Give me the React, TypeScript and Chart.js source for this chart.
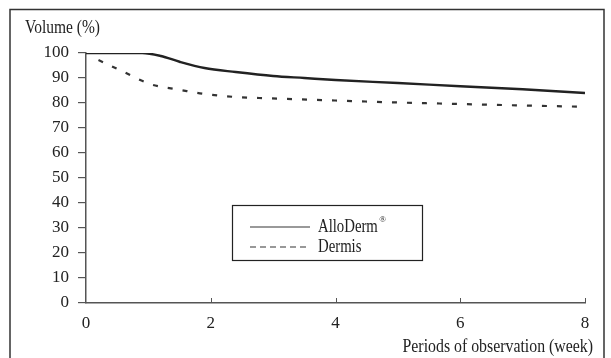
import React, { useEffect, useRef } from "react";
import { Chart, registerables } from "chart.js";

Chart.register(...registerables);

const alloWeeks = [0, 0.9, 1.2, 1.5, 1.9, 2.4, 3, 3.5, 4, 5, 6, 7, 8];
const alloValues = [100, 100, 98.8, 96.5, 94, 92.4, 90.8, 90, 89.2, 88, 86.7, 85.5, 84];
const dermWeeks = [0.2, 0.6, 1.0, 1.2, 1.45, 1.9, 2.4, 2.9, 4, 5, 6, 7, 8];
const dermValues = [97.2, 92.5, 87.8, 86.5, 85.5, 83.6, 82.4, 81.9, 81, 80.2, 79.6, 79, 78.5];
const xTicks = [0, 2, 4, 6, 8];
const yTitle = "Volume (%)";
const xTitle = "Periods of observation (week)";
const seriesNames = ["AlloDerm", "Dermis"];

const FONT = "'Liberation Serif', 'DejaVu Serif', serif";

function condensedText(ctx: any, text: string, x: number, y: number, align: string, size: number, sx: number) {
  ctx.save();
  ctx.font = `${size}px ${FONT}`;
  ctx.textBaseline = "middle";
  ctx.textAlign = "left";
  const w = ctx.measureText(text).width * sx;
  const left = align === "right" ? x - w : x;
  ctx.translate(left, y);
  ctx.scale(sx, 1);
  ctx.fillText(text, 0, 0);
  ctx.restore();
  return w;
}

const decorPlugin = {
  id: "decor",
  afterDraw(chart: any) {
    const ctx = chart.ctx;
    const xs = chart.scales.x;
    const ys = chart.scales.y;
    ctx.save();
    // outer frame
    ctx.strokeStyle = "#333";
    ctx.lineWidth = 1.5;
    ctx.beginPath();
    ctx.moveTo(10, 360);
    ctx.lineTo(10, 9.5);
    ctx.lineTo(604, 9.5);
    ctx.lineTo(604, 360);
    ctx.stroke();
    // inward x ticks
    ctx.strokeStyle = "#555";
    ctx.lineWidth = 1;
    const y0 = ys.getPixelForValue(0);
    xTicks.forEach((v) => {
      if (v === 0) return;
      const px = Math.round(xs.getPixelForValue(v)) + 0.5;
      ctx.beginPath();
      ctx.moveTo(px, y0);
      ctx.lineTo(px, y0 - 5);
      ctx.stroke();
    });
    // titles
    ctx.fillStyle = "#222";
    condensedText(ctx, yTitle, 25, 28, "left", 18, 0.86);
    condensedText(ctx, xTitle, 593, 347, "right", 18, 0.88);
    // legend box
    const bx = 232, by = 205.5, bw = 190, bh = 55;
    ctx.fillStyle = "#fff";
    ctx.fillRect(bx, by, bw, bh);
    ctx.strokeStyle = "#222";
    ctx.lineWidth = 1.2;
    ctx.strokeRect(bx + 0.5, by, bw, bh);
    const rows = [227, 247];
    chart.data.datasets.forEach((ds: any, i: number) => {
      ctx.strokeStyle = "#777";
      ctx.lineWidth = 1.6;
      ctx.setLineDash(i === 0 ? [] : [6, 4]);
      ctx.beginPath();
      ctx.moveTo(250, rows[i]);
      ctx.lineTo(310, rows[i]);
      ctx.stroke();
      ctx.setLineDash([]);
      ctx.fillStyle = "#222";
      const w = condensedText(ctx, seriesNames[i], 318, rows[i], "left", 18, 0.82);
      if (i === 0) {
        ctx.font = `9px ${FONT}`;
        ctx.textAlign = "left";
        ctx.textBaseline = "middle";
        ctx.fillText("®", 318 + w + 1.5, rows[i] - 7);
      }
    });
    ctx.restore();
  },
};

export default function App() {
  const ref = useRef<HTMLCanvasElement | null>(null);
  useEffect(() => {
    document.body.style.margin = "0";
    if (!ref.current) return;
    const chart = new Chart(ref.current, {
      type: "line",
      data: {
        datasets: [
          {
            label: seriesNames[0],
            data: alloWeeks.map((x, i) => ({ x, y: alloValues[i] })),
            borderColor: "#222",
            borderWidth: 2.4,
            pointRadius: 0,
            cubicInterpolationMode: "monotone",
            fill: false,
          },
          {
            label: seriesNames[1],
            data: dermWeeks.map((x, i) => ({ x, y: dermValues[i] })),
            borderColor: "#333",
            borderWidth: 2.2,
            borderDash: [5, 10],
            pointRadius: 0,
            cubicInterpolationMode: "monotone",
            fill: false,
          },
        ],
      },
      options: {
        animation: false,
        responsive: false,
        layout: { padding: { top: 53, right: 26, left: 0, bottom: 0 } },
        plugins: { legend: { display: false }, tooltip: { enabled: false } },
        scales: {
          x: {
            type: "linear",
            min: 0,
            max: 8,
            afterBuildTicks: (s: any) => {
              s.ticks = xTicks.map((v) => ({ value: v }));
            },
            afterFit: (s: any) => {
              s.height = 55;
            },
            grid: { display: false, drawTicks: false },
            border: { display: true, color: "#555", width: 1.5 },
            ticks: { padding: 10, color: "#222", font: { family: FONT, size: 17 }, maxRotation: 0 },
          },
          y: {
            type: "linear",
            min: 0,
            max: 100,
            ticks: { stepSize: 10, padding: 9, color: "#222", font: { family: FONT, size: 17 } },
            afterFit: (s: any) => {
              s.width = 86;
            },
            grid: { drawOnChartArea: false, drawTicks: true, tickLength: 8, color: "#555", lineWidth: 1.2 },
            border: { display: true, color: "#555", width: 1.5 },
          },
        },
      } as any,
      plugins: [decorPlugin],
    });
    return () => chart.destroy();
  }, []);
  return (
    <div style={{ width: 611, height: 358 }}>
      <canvas ref={ref} width={611} height={358} style={{ display: "block", width: 611, height: 358 }} />
    </div>
  );
}
